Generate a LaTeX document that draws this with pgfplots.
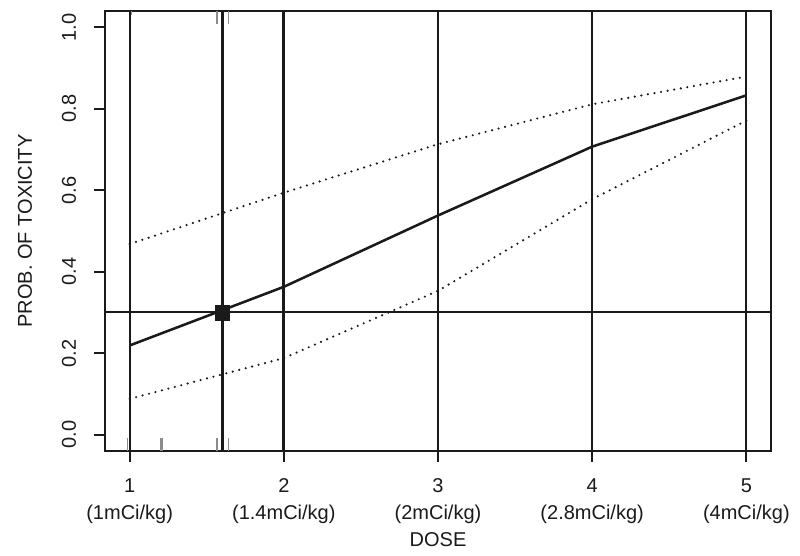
\documentclass[border=0pt]{standalone}
\usepackage{fontspec}
\setmainfont{Liberation Sans}
\usepackage{pgfplots}
\pgfplotsset{compat=1.18}
\definecolor{ink}{HTML}{1A1A1A}
\definecolor{rugc}{HTML}{8C8C8C}
\newcommand{\lbl}{\fontsize{15}{20}\selectfont}

\begin{document}
\begin{tikzpicture}
\begin{axis}[
  name=ax, scale only axis, width=499.5pt, height=330pt,
  xmin=0.84, xmax=5.16, ymin=-0.04, ymax=1.04,
  axis line style={ink, line width=1.6pt},
  tick align=outside, xtick pos=bottom, ytick pos=left,
  major tick length=8.25pt, tick style={ink, line width=1.6pt},
  xtick={1,2,3,4,5},
  xticklabels={{1\\(1mCi/kg)},{2\\(1.4mCi/kg)},{3\\(2mCi/kg)},{4\\(2.8mCi/kg)},{5\\(4mCi/kg)}},
  ytick={0,0.2,0.4,0.6,0.8,1},
  yticklabels={0.0,0.2,0.4,0.6,0.8,1.0},
  xticklabel style={align=center, font=\lbl, text=ink, yshift=-9.2pt},
  yticklabel style={xshift=-10pt, rotate=90, anchor=south, font=\lbl, text=ink},
  xlabel={DOSE}, ylabel={PROB. OF TOXICITY},
  xlabel style={at={(axis description cs:0.5,-0.2023)}, anchor=center, font=\lbl, text=ink},
  ylabel style={at={(axis description cs:-0.1201,0.5)}, anchor=center, font=\lbl, text=ink},
  unbounded coords=jump,
]
% rug marks, bottom and top
\addplot[rugc, line width=1.0pt] coordinates {
  (0.987,-0.04)(0.987,-0.008)(0.987,nan)
  (1.005,-0.04)(1.005,-0.008)(1.005,nan)
  (1.200,-0.04)(1.200,-0.008)(1.200,nan)
  (1.210,-0.04)(1.210,-0.008)(1.210,nan)
  (1.566,-0.04)(1.566,-0.008)(1.566,nan)
  (1.643,-0.04)(1.643,-0.008)};
\addplot[rugc, line width=1.0pt] coordinates {
  (1.013,1.04)(1.013,1.030)(1.013,nan)
  (1.566,1.04)(1.566,1.008)(1.566,nan)
  (1.643,1.04)(1.643,1.008)(1.643,nan)
  (1.990,1.04)(1.990,1.008)};
% reference lines
\addplot[ink, line width=1.5pt] coordinates {(1,-0.04)(1,1.04)};
\addplot[ink, line width=2.3pt] coordinates {(1.6,-0.04)(1.6,1.04)};
\addplot[ink, line width=2.4pt] coordinates {(2,-0.04)(2,1.04)};
\addplot[ink, line width=2.0pt] coordinates {(3,-0.04)(3,1.04)};
\addplot[ink, line width=1.5pt] coordinates {(4,-0.04)(4,1.04)};
\addplot[ink, line width=1.5pt] coordinates {(5,-0.04)(5,1.04)};
\addplot[ink, line width=1.5pt] coordinates {(0.84,0.3)(5.16,0.3)};
% estimate and bounds
\addplot[ink, line width=1.8pt, dash pattern=on 0pt off 5pt, line cap=round]
  coordinates {(1,0.468)(2,0.594)(3,0.713)(4,0.811)(5,0.879)};
\addplot[ink, line width=1.8pt, dash pattern=on 0pt off 5pt, line cap=round]
  coordinates {(1,0.088)(2,0.188)(3,0.353)(4,0.578)(5,0.771)};
\addplot[ink, line width=1.9pt]
  coordinates {(1,0.219)(2,0.363)(3,0.538)(4,0.707)(5,0.833)};
\addplot[only marks, mark=square*, mark size=5.5pt, ink]
  coordinates {(1.6,0.3)};
\end{axis}
\pgfresetboundingbox
\path (ax.south west) ++(-78.75pt,-78.75pt) rectangle ++(600pt,417pt);
\end{tikzpicture}
\end{document}
